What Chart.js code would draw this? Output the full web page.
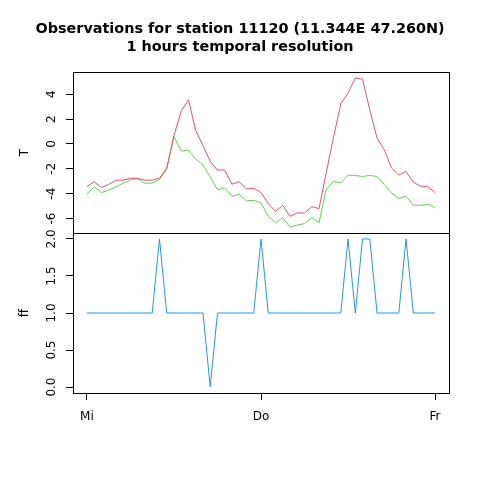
<!DOCTYPE html>
<html><head><meta charset="utf-8">
<script src="https://cdn.jsdelivr.net/npm/chart.js@4"></script>
<style>html,body{margin:0;padding:0;background:#fff}canvas{display:block}</style>
</head><body>
<canvas id="c" width="480" height="480"></canvas>
<script>
const hours = [0,1,2,3,4,5,6,7,8,9,10,11,12,13,14,15,16,17,18,19,20,21,22,23,24,25,26,27,28,29,30,31,32,33,34,35,36,37,38,39,40,41,42,43,44,45,46,47,48];
const dayTicks = [0, 24, 48];
const dayLabels = ['Mi', 'Do', 'Fr'];
const tTicks = [-6, -4, -2, 0, 2, 4];
const ffTicks = [0, 0.5, 1, 1.5, 2];
const tempT = [-3.42,-3.05,-3.5,-3.26,-2.91,-2.91,-2.75,-2.75,-2.91,-2.91,-2.75,-1.97,0.67,2.64,3.56,1.08,-0.13,-1.4,-2.1,-2.1,-3.23,-3.05,-3.61,-3.56,-3.91,-4.8,-5.42,-4.93,-5.82,-5.55,-5.55,-5.04,-5.2,-2.29,0.54,3.23,4.1,5.31,5.2,2.75,0.46,-0.46,-1.94,-2.5,-2.21,-3.07,-3.4,-3.42,-3.91];
const tempTd = [-4.02,-3.45,-3.91,-3.72,-3.45,-3.15,-2.88,-2.8,-3.15,-3.15,-2.86,-2.02,0.59,-0.57,-0.51,-1.21,-1.7,-2.64,-3.69,-3.53,-4.2,-4.04,-4.58,-4.53,-4.74,-5.82,-6.33,-5.93,-6.68,-6.52,-6.41,-5.93,-6.33,-3.61,-3.02,-3.13,-2.51,-2.53,-2.61,-2.53,-2.61,-3.26,-3.94,-4.39,-4.2,-4.93,-4.93,-4.85,-5.12];
const windFF = [1,1,1,1,1,1,1,1,1,1,2,1,1,1,1,1,1,0,1,1,1,1,1,1,2,1,1,1,1,1,1,1,1,1,1,1,2,1,2,2,1,1,1,1,2,1,1,1,1];

const pts = arr => hours.map((h, i) => ({x: h, y: arr[i]}));
const FONT = '"DejaVu Sans", sans-serif';

const rPlugin = {
  id: 'rstyle',
  afterDraw(chart) {
    const ctx = chart.ctx, a = chart.chartArea;
    const yT = chart.scales.yT, yF = chart.scales.yF;
    ctx.save();
    ctx.strokeStyle = '#000'; ctx.lineWidth = 1;
    [yT, yF].forEach(s => {
      ctx.strokeRect(Math.round(a.left) + 0.5, Math.round(s.top) + 0.5,
        Math.round(a.right - a.left), Math.round(s.bottom - s.top));
    });
    ctx.fillStyle = '#000';
    ctx.font = '12px ' + FONT;
    ctx.textAlign = 'center';
    ctx.textBaseline = 'alphabetic';
    [[yT, v => String(v)], [yF, v => v.toFixed(1)]].forEach(([s, f]) => {
      s.ticks.forEach(t => {
        const y = s.getPixelForValue(t.value);
        ctx.save(); ctx.translate(55, y); ctx.rotate(-Math.PI / 2);
        ctx.fillText(f(t.value), 0, 0); ctx.restore();
      });
    });
    [[yT, 'T'], [yF, 'ff']].forEach(([s, txt]) => {
      ctx.save(); ctx.translate(27.5, (s.top + s.bottom) / 2); ctx.rotate(-Math.PI / 2);
      ctx.fillText(txt, 0, 0); ctx.restore();
    });
    ctx.restore();
  }
};

new Chart(document.getElementById('c'), {
  type: 'line',
  data: {
    datasets: [
      {label: 'T', data: pts(tempT), yAxisID: 'yT', borderColor: '#DF536B', borderWidth: 1, pointRadius: 0, tension: 0},
      {label: 'Td', data: pts(tempTd), yAxisID: 'yT', borderColor: '#61D04F', borderWidth: 1, pointRadius: 0, tension: 0},
      {label: 'ff', data: pts(windFF), yAxisID: 'yF', borderColor: '#2297E6', borderWidth: 1, pointRadius: 0, tension: 0}
    ]
  },
  options: {
    responsive: false, animation: false, devicePixelRatio: 1,
    layout: {padding: {left: 0, right: 0, top: 0, bottom: 0}},
    plugins: {
      legend: {display: false}, tooltip: {enabled: false},
      title: {display: true, text: ['Observations for station 11120 (11.344E 47.260N)', '1 hours temporal resolution'],
        color: '#000', font: {family: FONT, size: 14.4, weight: 'bold', lineHeight: 1.25}, padding: {top: 20, bottom: 16}}
    },
    scales: {
      x: {
        type: 'linear', min: -1.92, max: 49.92,
        afterBuildTicks: s => { s.ticks = dayTicks.map(v => ({value: v})); },
        afterFit: s => { s.height = 87; },
        ticks: {autoSkip: false, maxRotation: 0, color: '#000', font: {family: FONT, size: 12}, padding: 10,
          callback: v => dayLabels[dayTicks.indexOf(v)]},
        grid: {drawOnChartArea: false, drawTicks: true, tickLength: 7, color: '#000'},
        border: {display: false}
      },
      yF: {
        type: 'linear', position: 'left', stack: 'left', stackWeight: 160, min: -0.08, max: 2.08,
        afterBuildTicks: s => { s.ticks = ffTicks.map(v => ({value: v})); },
        afterFit: s => { s.width = 73; },
        ticks: {color: 'rgba(0,0,0,0)', font: {family: FONT, size: 12}},
        grid: {drawOnChartArea: false, drawTicks: true, tickLength: 7, color: '#000'},
        border: {display: false}
      },
      yT: {
        type: 'linear', position: 'left', stack: 'left', stackWeight: 161, min: -7.16, max: 5.79,
        afterBuildTicks: s => { s.ticks = tTicks.map(v => ({value: v})); },
        afterFit: s => { s.width = 73; },
        ticks: {color: 'rgba(0,0,0,0)', font: {family: FONT, size: 12}},
        grid: {drawOnChartArea: false, drawTicks: true, tickLength: 7, color: '#000'},
        border: {display: false}
      },
      yR: {
        type: 'linear', position: 'right', display: true,
        afterFit: s => { s.width = 31; },
        ticks: {display: false},
        grid: {display: false},
        border: {display: false}
      }
    }
  },
  plugins: [rPlugin]
});
</script>
</body></html>
